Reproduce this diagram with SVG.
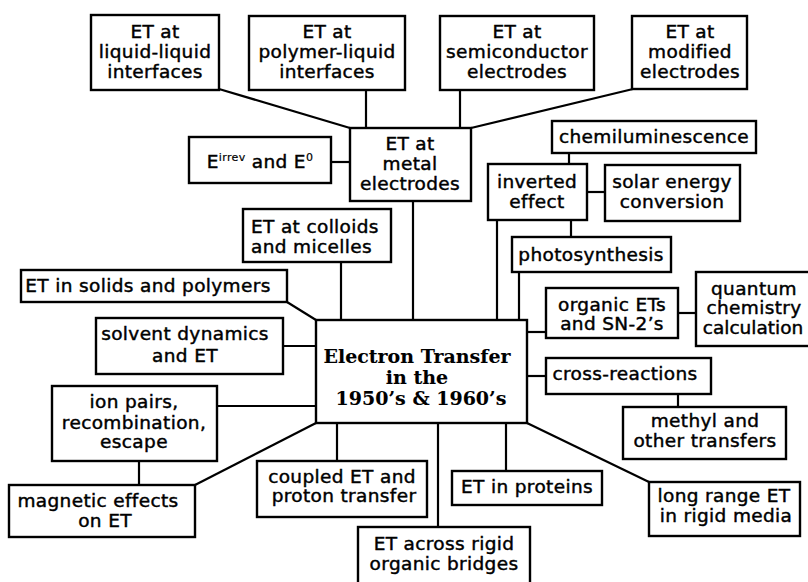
<svg xmlns="http://www.w3.org/2000/svg" width="808" height="582" viewBox="0 0 808 582">
<style>
rect{fill:#fff;stroke:#000;stroke-width:2.4}
#connectors line{stroke:#000;stroke-width:2.2}
text{font-family:"DejaVu Sans",sans-serif;font-size:18.5px;letter-spacing:0.35px;fill:#000;stroke:#000;stroke-width:0.45;text-anchor:middle}
.l{text-anchor:start}
.c{font-family:"DejaVu Serif",serif;font-weight:bold;font-size:19px;letter-spacing:0;stroke-width:0.1}
.s{font-size:11px;stroke-width:0.2}
</style>
<rect x="0" y="0" width="808" height="582" style="fill:#fff;stroke:none"/>
<g id="connectors">
<line x1="219" y1="89" x2="350" y2="128"/>
<line x1="366" y1="90" x2="366" y2="128"/>
<line x1="460" y1="90" x2="460" y2="128"/>
<line x1="633" y1="89" x2="471" y2="128"/>
<line x1="331" y1="162" x2="350" y2="162"/>
<line x1="413" y1="201" x2="413" y2="320"/>
<line x1="341" y1="262" x2="341" y2="320"/>
<line x1="287" y1="302" x2="316" y2="320"/>
<line x1="283" y1="346" x2="316" y2="346"/>
<line x1="217" y1="406" x2="316" y2="406"/>
<line x1="139" y1="461" x2="139" y2="485"/>
<line x1="316" y1="423" x2="195" y2="485"/>
<line x1="337" y1="423" x2="337" y2="461"/>
<line x1="438" y1="423" x2="438" y2="527"/>
<line x1="506" y1="423" x2="506" y2="471"/>
<line x1="527" y1="423" x2="649" y2="482"/>
<line x1="527" y1="376" x2="546" y2="376"/>
<line x1="678" y1="394" x2="678" y2="407"/>
<line x1="527" y1="332" x2="546" y2="332"/>
<line x1="678" y1="313" x2="696" y2="313"/>
<line x1="519" y1="272" x2="519" y2="320"/>
<line x1="497" y1="220" x2="497" y2="320"/>
<line x1="571" y1="220" x2="571" y2="237"/>
<line x1="587" y1="192" x2="605" y2="192"/>
<line x1="569" y1="153" x2="569" y2="164"/>
</g>
<g id="central"><rect x="316" y="320" width="211" height="103"/>
<text class="c" x="417" y="363">Electron Transfer</text><text class="c" x="417" y="384">in the</text><text class="c" x="421" y="405">1950’s &amp; 1960’s</text></g>
<g id="liquid"><rect x="91" y="15" width="128" height="75"/>
<text x="155" y="38">ET at</text><text x="155" y="58">liquid-liquid</text><text x="155" y="78">interfaces</text></g>
<g id="polymer"><rect x="249" y="16" width="156" height="74"/>
<text x="327" y="38">ET at</text><text x="327" y="58">polymer-liquid</text><text x="327" y="78">interfaces</text></g>
<g id="semiconductor"><rect x="440" y="16" width="154" height="74"/>
<text x="517" y="38">ET at</text><text x="517" y="58">semiconductor</text><text x="517" y="78">electrodes</text></g>
<g id="modified"><rect x="632" y="16" width="115" height="73"/>
<text x="690" y="38">ET at</text><text x="690" y="58">modified</text><text x="690" y="78">electrodes</text></g>
<g id="eirrev"><rect x="189" y="137" width="142" height="46"/>
<text x="260" y="168">E<tspan class="s" dy="-7">irrev</tspan><tspan dy="7"> and E</tspan><tspan class="s" dy="-7">0</tspan></text></g>
<g id="metal"><rect x="350" y="128" width="121" height="73"/>
<text x="410" y="150">ET at</text><text x="410" y="170">metal</text><text x="410" y="190">electrodes</text></g>
<g id="chemiluminescence"><rect x="552" y="121" width="204" height="32"/>
<text x="654" y="143">chemiluminescence</text></g>
<g id="inverted"><rect x="488" y="164" width="99" height="56"/>
<text x="537" y="188">inverted</text><text x="537" y="208">effect</text></g>
<g id="solar"><rect x="605" y="165" width="135" height="56"/>
<text x="672" y="188">solar energy</text><text x="672" y="208">conversion</text></g>
<g id="photosynthesis"><rect x="512" y="237" width="159" height="35"/>
<text x="591" y="261">photosynthesis</text></g>
<g id="organic"><rect x="546" y="288" width="132" height="50"/>
<text x="612" y="311">organic ETs</text><text x="612" y="330">and SN-2’s</text></g>
<g id="quantum"><rect x="696" y="272" width="120" height="74"/>
<text x="754" y="295">quantum</text><text x="754" y="314">chemistry</text><text x="753" y="334" style="letter-spacing:0">calculation</text></g>
<g id="cross"><rect x="546" y="358" width="165" height="36"/>
<text x="625" y="380">cross-reactions</text></g>
<g id="methyl"><rect x="623" y="407" width="163" height="52"/>
<text x="705" y="427">methyl and</text><text x="705" y="447">other  transfers</text></g>
<g id="longrange"><rect x="649" y="482" width="151" height="54"/>
<text x="724" y="502">long range ET</text><text x="726" y="522">in rigid media</text></g>
<g id="proteins"><rect x="452" y="471" width="150" height="34"/>
<text x="527" y="493">ET in proteins</text></g>
<g id="bridges"><rect x="358" y="527" width="172" height="70"/>
<text x="444" y="550">ET across rigid</text><text x="444" y="570">organic bridges</text></g>
<g id="coupled"><rect x="257" y="461" width="170" height="56"/>
<text x="342" y="483">coupled ET and</text><text x="344" y="502">proton transfer</text></g>
<g id="magnetic"><rect x="9" y="485" width="186" height="52"/>
<text x="98" y="507">magnetic effects</text><text x="105" y="527">on ET</text></g>
<g id="ionpairs"><rect x="52" y="386" width="165" height="75"/>
<text x="134" y="408">ion pairs,</text><text x="134" y="429">recombination,</text><text x="134" y="448">escape</text></g>
<g id="solvent"><rect x="96" y="318" width="187" height="56"/>
<text x="185" y="340">solvent dynamics</text><text x="185" y="362">and ET</text></g>
<g id="solids"><rect x="21" y="270" width="266" height="32"/>
<text x="148" y="292">ET in solids and polymers</text></g>
<g id="colloids"><rect x="243" y="209" width="148" height="53"/>
<text class="l" x="251" y="233">ET at colloids</text><text class="l" x="251" y="253">and micelles</text></g>
</svg>
